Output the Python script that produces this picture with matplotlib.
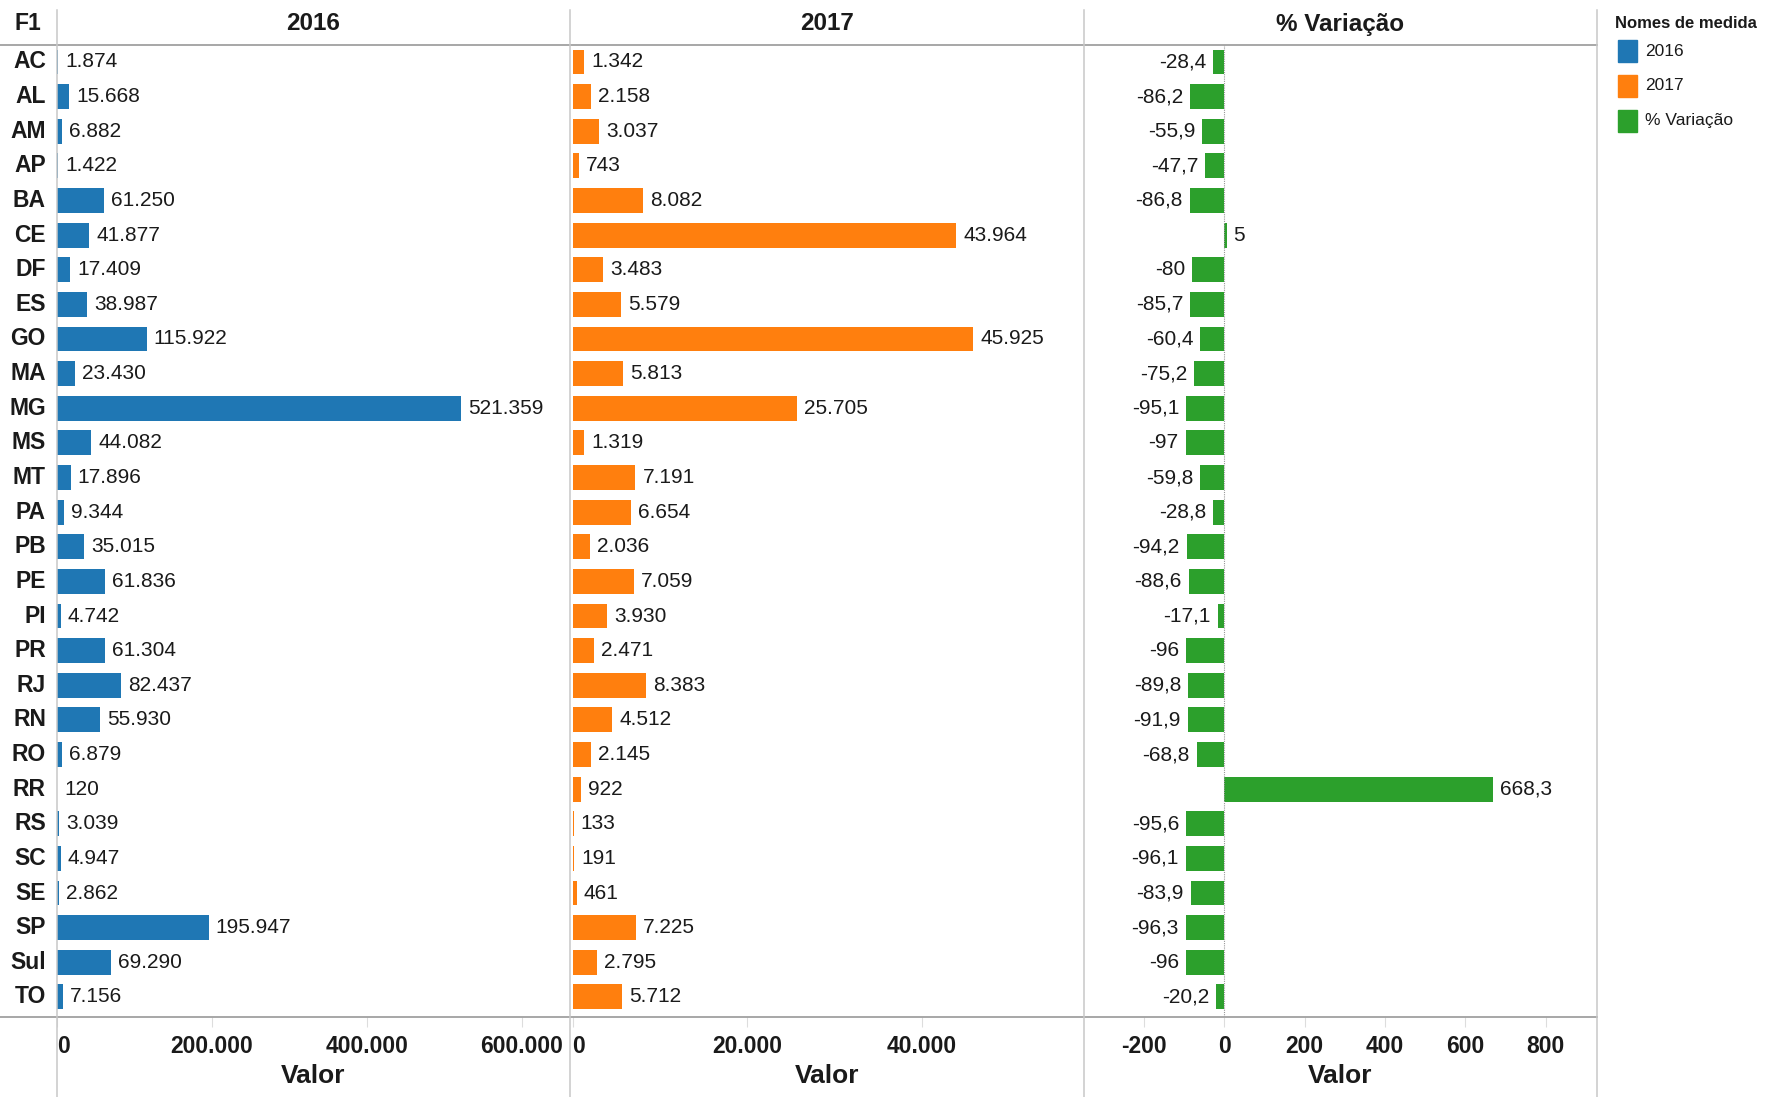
import matplotlib
matplotlib.use("Agg")
import matplotlib.pyplot as plt
from matplotlib.lines import Line2D
from matplotlib.patches import Rectangle

ufs = ["AC", "AL", "AM", "AP", "BA", "CE", "DF", "ES", "GO", "MA", "MG", "MS", "MT", "PA",
       "PB", "PE", "PI", "PR", "RJ", "RN", "RO", "RR", "RS", "SC", "SE", "SP", "Sul", "TO"]
v2016 = [1874, 15668, 6882, 1422, 61250, 41877, 17409, 38987, 115922, 23430, 521359, 44082,
         17896, 9344, 35015, 61836, 4742, 61304, 82437, 55930, 6879, 120, 3039, 4947, 2862,
         195947, 69290, 7156]
v2017 = [1342, 2158, 3037, 743, 8082, 43964, 3483, 5579, 45925, 5813, 25705, 1319, 7191,
         6654, 2036, 7059, 3930, 2471, 8383, 4512, 2145, 922, 133, 191, 461, 7225, 2795, 5712]
variacao = [-28.4, -86.2, -55.9, -47.7, -86.8, 5, -80, -85.7, -60.4, -75.2, -95.1, -97, -59.8,
            -28.8, -94.2, -88.6, -17.1, -96, -89.8, -91.9, -68.8, 668.3, -95.6, -96.1, -83.9,
            -96.3, -96, -20.2]

panels = ["2016", "2017", "% Variação"]
colors = ["#1f77b4", "#ff7f0e", "#2ca02c"]
ticks = [[0, 200000, 400000, 600000], [0, 20000, 40000], [-200, 0, 200, 400, 600, 800]]
limits = [(0, 662000), (-300, 58600), (-350, 928)]

# no condensed face installed, Liberation Sans is the closest to the original look
plt.rcParams["font.family"] = ["Liberation Sans", "DejaVu Sans"]
TXT = "#1a1a1a"

W, H = 1771, 1097
fig = plt.figure(figsize=(W / 100, H / 100), dpi=100)

def fx(px):
    return px / W

def fy(py):
    return 1 - py / H

def fmt_int(v):
    return f"{v:,}".replace(",", ".")

def fmt_var(v):
    return f"{v:g}".replace(".", ",")

edges = [57, 570, 1084, 1597]
top, bottom = 45, 1017
y = list(range(len(ufs)))
series = [v2016, v2017, variacao]

for i in range(3):
    ax = fig.add_axes([fx(edges[i]), fy(bottom), fx(edges[i + 1] - edges[i]), (bottom - top) / H])
    vals = series[i]
    ax.barh(y, vals, height=0.72, color=colors[i])
    ax.set_xlim(*limits[i])
    ax.set_ylim(len(ufs) - 1 + 0.58, -0.49)
    for s in ax.spines.values():
        s.set_visible(False)
    span = limits[i][1] - limits[i][0]
    off = span * 7 / 513
    for yy, v in zip(y, vals):
        lab = fmt_var(v) if i == 2 else fmt_int(v)
        if v < 0:
            ax.text(v - off, yy, lab, ha="right", va="center", fontsize=15, color=TXT)
        else:
            ax.text(v + off, yy, lab, ha="left", va="center", fontsize=15, color=TXT)
    if i == 2:
        ax.axvline(0, color="#999999", lw=0.8, ls=(0, (1, 1)))
    ax.set_xticks(ticks[i])
    ax.set_xticklabels([fmt_int(t) for t in ticks[i]])
    ax.tick_params(axis="x", length=7, color="#dddddd", pad=6, labelsize=16.5)
    for t in ax.get_xticklabels():
        t.set_fontweight("bold")
        t.set_color(TXT)
    if i < 2:
        ax.get_xticklabels()[0].set_ha("left")
    ax.set_xlabel("Valor", fontsize=19, fontweight="bold", color=TXT, labelpad=4)
    if i == 0:
        ax.set_yticks(y)
        ax.set_yticklabels(ufs, fontsize=16.5, fontweight="bold", color=TXT, va="center")
        ax.tick_params(axis="y", length=0, pad=8)
    else:
        ax.set_yticks([])
    fig.text(fx((edges[i] + edges[i + 1]) / 2), fy(24), panels[i], ha="center", va="center",
             fontsize=17.5, fontweight="bold", color=TXT)

fig.text(fx(28), fy(24), "F1", ha="center", va="center", fontsize=16.5, fontweight="bold",
         color=TXT)

# frame lines
fig.add_artist(Line2D([0, fx(1597)], [fy(45), fy(45)], color="#a0a0a0", lw=1.3))
fig.add_artist(Line2D([0, fx(1597)], [fy(1017), fy(1017)], color="#a0a0a0", lw=1.3))
for e in edges:
    fig.add_artist(Line2D([fx(e), fx(e)], [fy(10), 0], color="#c8c8c8", lw=1.1))

# legend
fig.text(fx(1615), fy(24), "Nomes de medida", ha="left", va="center", fontsize=12,
         fontweight="bold", color=TXT)
for k, (name, c) in enumerate(zip(panels, colors)):
    cy = 51 + 35 * k
    fig.add_artist(Rectangle((fx(1618), fy(cy + 11)), fx(19), 22 / H, color=c,
                             transform=fig.transFigure))
    fig.text(fx(1645), fy(cy), name, ha="left", va="center", fontsize=12.5, color=TXT)

fig.savefig("out.png", dpi=100)
